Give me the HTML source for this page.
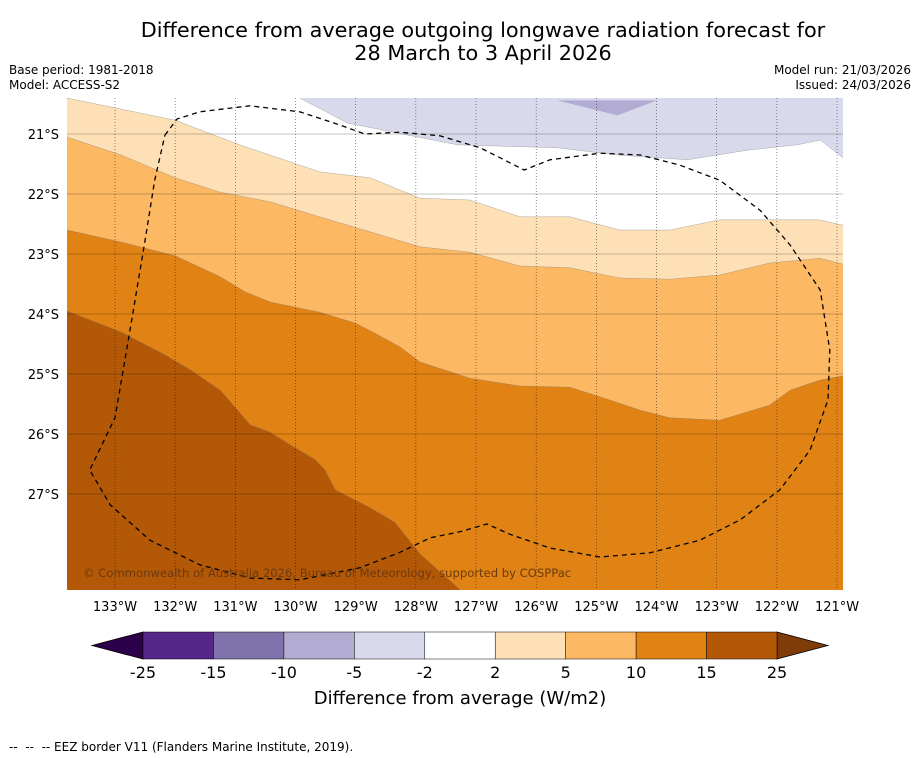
<!DOCTYPE html>
<html><head><meta charset="utf-8">
<style>
body{margin:0;background:#fff;font-family:"Liberation Sans","DejaVu Sans",sans-serif;}
#wrap{position:relative;width:919px;height:758px;overflow:hidden;background:#fff;}
.t{position:absolute;color:#000;}
</style></head>
<body>
<div id="wrap">
<div class="t" style="left:0;width:966px;top:19px;text-align:center;font-size:20.8px;line-height:23px;font-family:'DejaVu Sans',sans-serif;">Difference from average outgoing longwave radiation forecast for<br>28 March to 3 April 2026</div>
<div class="t" style="left:9px;top:63px;font-size:12px;line-height:15px;font-family:'DejaVu Sans',sans-serif;">Base period: 1981-2018<br>Model: ACCESS-S2</div>
<div class="t" style="right:8px;top:63px;font-size:12px;line-height:15px;text-align:right;font-family:'DejaVu Sans',sans-serif;">Model run: 21/03/2026<br>Issued: 24/03/2026</div>
<div class="t" style="left:9px;top:740px;font-size:12px;white-space:pre;font-family:'DejaVu Sans',sans-serif;">--  --  -- EEZ border V11 (Flanders Marine Institute, 2019).</div>
<svg id="svg" width="919" height="758" style="position:absolute;left:0;top:0"></svg>
</div>
<script>
const lonTicks=[-133,-132,-131,-130,-129,-128,-127,-126,-125,-124,-123,-122,-121];
const latTicks=[-21,-22,-23,-24,-25,-26,-27];
const levels=[-25,-15,-10,-5,-2,2,5,10,15,25];
const colors=['#542788','#8073ac','#b2abd2','#d8daeb','#ffffff','#fee0b6','#fdb863','#e08214','#b35806'];
const b_m5=[[-129.93,-20.4],[-129.13,-20.82],[-127.31,-21.18],[-125.65,-21.23],[-124.65,-21.35],[-123.49,-21.43],[-122.49,-21.27],[-121.66,-21.18],[-121.28,-21.1],[-120.9,-21.4],[-120.5,-21.4]];
const b_m10=[[-125.65,-20.44],[-124.65,-20.69],[-123.99,-20.44]];
const b_2=[[-133.8,-20.4],[-132.0,-20.77],[-130.93,-21.18],[-129.6,-21.63],[-128.76,-21.73],[-127.93,-22.07],[-127.1,-22.1],[-126.27,-22.38],[-125.44,-22.38],[-124.61,-22.6],[-123.78,-22.6],[-122.95,-22.43],[-121.3,-22.43],[-120.9,-22.52],[-120.5,-22.52]];
const b_5=[[-133.8,-21.05],[-132.9,-21.35],[-132.0,-21.73],[-131.25,-21.97],[-130.42,-22.13],[-129.6,-22.38],[-128.76,-22.63],[-127.93,-22.88],[-127.1,-22.97],[-126.27,-23.2],[-125.44,-23.23],[-124.61,-23.4],[-123.78,-23.42],[-122.95,-23.35],[-122.12,-23.15],[-121.28,-23.07],[-120.9,-23.17],[-120.5,-23.17]];
const b_10=[[-133.8,-22.6],[-132.9,-22.8],[-132.0,-23.03],[-131.25,-23.38],[-130.84,-23.63],[-130.42,-23.8],[-129.6,-23.97],[-129.01,-24.15],[-128.68,-24.32],[-128.26,-24.55],[-127.93,-24.8],[-127.1,-25.07],[-126.27,-25.2],[-125.44,-25.22],[-124.94,-25.38],[-124.28,-25.6],[-123.78,-25.73],[-122.95,-25.77],[-122.12,-25.52],[-121.78,-25.27],[-121.28,-25.1],[-120.9,-25.03],[-120.5,-25.03]];
const b_15=[[-133.8,-23.95],[-132.9,-24.3],[-132.17,-24.68],[-131.75,-24.93],[-131.25,-25.27],[-130.75,-25.85],[-130.42,-25.97],[-130.09,-26.18],[-129.67,-26.43],[-129.51,-26.6],[-129.34,-26.93],[-128.76,-27.23],[-128.35,-27.47],[-127.93,-28.0],[-127.26,-28.6]];
const eez=[[-132.17,-21.02],[-131.97,-20.75],[-131.59,-20.63],[-130.76,-20.53],[-129.93,-20.63],[-129.26,-20.85],[-128.85,-21.0],[-128.26,-20.97],[-127.6,-21.03],[-126.93,-21.23],[-126.2,-21.6],[-125.77,-21.43],[-124.94,-21.32],[-124.27,-21.35],[-123.61,-21.52],[-122.95,-21.77],[-122.28,-22.27],[-121.78,-22.85],[-121.28,-23.6],[-121.12,-24.6],[-121.15,-25.43],[-121.45,-26.27],[-121.95,-26.93],[-122.61,-27.43],[-123.28,-27.77],[-124.11,-27.98],[-124.94,-28.05],[-125.77,-27.9],[-126.44,-27.67],[-126.82,-27.5],[-127.27,-27.63],[-127.76,-27.73],[-128.26,-27.97],[-128.93,-28.23],[-129.93,-28.43],[-130.76,-28.4],[-131.59,-28.18],[-132.42,-27.77],[-133.08,-27.18],[-133.42,-26.6],[-133.0,-25.73],[-132.75,-24.27],[-132.5,-22.77],[-132.34,-21.77],[-132.17,-21.02]];
const X0=67,X1=843,Y0=98,Y1=590;
const x=lon=>115+(lon+133)*60.17;
const y=lat=>134+(-lat-21)*60;
const NS='http://www.w3.org/2000/svg';
const svg=document.getElementById('svg');
function el(t,a,p){const e=document.createElementNS(NS,t);for(const k in a)e.setAttribute(k,a[k]);(p||svg).appendChild(e);return e;}
function pts(arr){return arr.map(p=>x(p[0]).toFixed(1)+','+y(p[1]).toFixed(1)).join(' ');}
const defs=el('defs',{});const cp=el('clipPath',{id:'cp'},defs);el('rect',{x:X0,y:Y0,width:X1-X0,height:Y1-Y0},cp);
const g=el('g',{'clip-path':'url(#cp)'});


el('rect',{x:X0,y:Y0,width:X1-X0,height:Y1-Y0,fill:colors[4]},g);
function below(b,c,name){const p=el('polygon',{points:pts(b)+` ${X1+20},${Y1+20} ${X0-20},${Y1+20}`,fill:c,stroke:'#777','stroke-width':0.3},g);

}
below(b_2,colors[5],'contour-2-5');
below(b_5,colors[6],'contour-5-10');
below(b_10,colors[7],'contour-10-15');
let p15=el('polygon',{points:pts(b_15)+` ${X0-20},${Y1+20}`,fill:colors[8],stroke:'#777','stroke-width':0.3},g);


let pm5=el('polygon',{points:pts(b_m5)+` ${X1+20},${Y0-20} ${x(-129.93)},${Y0-20}`,fill:colors[3],stroke:'#777','stroke-width':0.3},g);


let pm10=el('polygon',{points:pts(b_m10),fill:colors[2]},g);


lonTicks.forEach(l=>{let ln=el('line',{x1:x(l),x2:x(l),y1:Y0,y2:Y1,stroke:'#000','stroke-width':0.6,'stroke-dasharray':'1,2',opacity:0.7},g);


let t=el('text',{x:x(l),y:611,'text-anchor':'middle','font-size':13,'font-family':'DejaVu Sans,sans-serif'});t.textContent=(-l)+'°W';

});
latTicks.forEach(l=>{let ln=el('line',{x1:X0,x2:X1,y1:y(l),y2:y(l),stroke:'#000','stroke-width':0.5,opacity:0.45},g);


let t=el('text',{x:59,y:y(l)+5,'text-anchor':'end','font-size':13,'font-family':'DejaVu Sans,sans-serif'});t.textContent=(-l)+'°S';

});
let ez=el('polyline',{points:pts(eez),fill:'none',stroke:'#000','stroke-width':1.3,'stroke-dasharray':'5,4'},g);


let cr=el('text',{x:83,y:577,'font-size':11.6,fill:'#6b3a10','font-family':'DejaVu Sans,sans-serif'},g);cr.textContent='© Commonwealth of Australia 2026, Bureau of Meteorology, supported by COSPPac';


const cbX=v=>{const i=levels.indexOf(v);return 143+i*(634/9);};
const cy0=632,cy1=659;
let lt=el('polygon',{points:`${cbX(-25)},${cy0} ${cbX(-25)},${cy1} 92,${(cy0+cy1)/2}`,fill:'#2d004b',stroke:'#000','stroke-width':0.8});


let rt=el('polygon',{points:`${cbX(25)},${cy0} ${cbX(25)},${cy1} 828,${(cy0+cy1)/2}`,fill:'#7f3b08',stroke:'#000','stroke-width':0.8});


for(let i=0;i<colors.length;i++){let b=el('rect',{x:cbX(levels[i]),y:cy0,width:cbX(levels[i+1])-cbX(levels[i]),height:cy1-cy0,fill:colors[i],stroke:'#000','stroke-width':0.5});

}
levels.forEach(v=>{let t=el('text',{x:cbX(v),y:678,'text-anchor':'middle','font-size':16,'font-family':'DejaVu Sans,sans-serif'});t.textContent=v;

});
let ct=el('text',{x:460,y:704,'text-anchor':'middle','font-size':18,'font-family':'DejaVu Sans,sans-serif'});ct.textContent='Difference from average (W/m2)';


</script>
</body></html>
